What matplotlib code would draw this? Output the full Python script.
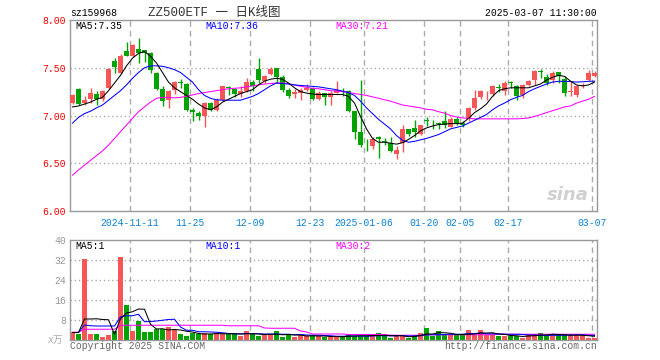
import matplotlib
matplotlib.use("Agg")
import matplotlib.pyplot as plt
import numpy as np

plt.rcParams['font.family'] = ['Liberation Mono', 'Noto Sans CJK SC', 'DejaVu Sans']

# daily candles, 2024-10-28 .. 2025-03-07 (88 trading days)
opens = [7.13, 7.28, 7.13, 7.17, 7.23, 7.17, 7.29, 7.566, 7.444, 7.68,
         7.628, 7.694, 7.69, 7.653, 7.444, 7.28, 7.16, 7.27, 7.345, 7.333,
         7.0625, 7.028, 6.993, 7.132, 7.0625, 7.167, 7.29, 7.28, 7.22, 7.253,
         7.354, 7.486, 7.365, 7.434, 7.497, 7.403, 7.27, 7.22, 7.236, 7.264,
         7.288, 7.177, 7.236, 7.194, 7.236, 7.257, 7.253, 7.045, 6.826, 6.69,
         6.68, 6.77, 6.725, 6.715, 6.594, 6.708, 6.854, 6.87, 6.81, 6.944,
         6.958, 6.913, 6.944, 6.882, 6.965, 6.924, 6.965, 7.08, 7.194, 7.21,
         7.22, 7.29, 7.26, 7.343, 7.313, 7.21, 7.323, 7.375, 7.465, 7.403,
         7.368, 7.455, 7.382, 7.25, 7.21, 7.306, 7.368, 7.41]
closes = [7.21, 7.125, 7.16, 7.24, 7.17, 7.26, 7.486, 7.503, 7.628, 7.628,
          7.743, 7.653, 7.653, 7.48, 7.278, 7.156, 7.26, 7.35, 7.34, 7.0625,
          7.035, 6.993, 7.132, 7.0625, 7.167, 7.306, 7.285, 7.22, 7.253, 7.354,
          7.306, 7.375, 7.417, 7.486, 7.403, 7.27, 7.20, 7.243, 7.27, 7.288,
          7.174, 7.236, 7.194, 7.236, 7.264, 7.243, 7.045, 6.826, 6.687, 6.686,
          6.757, 6.75, 6.72, 6.628, 6.635, 6.854, 6.81, 6.826, 6.896, 6.94,
          6.948, 6.91, 6.896, 6.965, 6.924, 6.903, 7.08, 7.184, 7.253, 7.215,
          7.31, 7.288, 7.34, 7.34, 7.208, 7.323, 7.358, 7.469, 7.46, 7.34,
          7.45, 7.417, 7.236, 7.254, 7.313, 7.323, 7.45, 7.45]
highs = [7.22, 7.29, 7.20, 7.29, 7.26, 7.27, 7.50, 7.60, 7.64, 7.774,
         7.75, 7.81, 7.69, 7.66, 7.46, 7.306, 7.27, 7.365, 7.38, 7.34,
         7.08, 7.045, 7.14, 7.14, 7.184, 7.313, 7.31, 7.288, 7.306, 7.39,
         7.375, 7.60, 7.427, 7.507, 7.50, 7.427, 7.288, 7.278, 7.29, 7.333,
         7.295, 7.253, 7.236, 7.253, 7.358, 7.288, 7.27, 7.045, 7.375, 6.757,
         6.77, 6.785, 6.767, 6.778, 6.68, 6.896, 6.86, 6.95, 6.896, 6.98,
         6.958, 6.93, 7.05, 6.98, 6.98, 6.94, 7.087, 7.264, 7.264, 7.253,
         7.316, 7.33, 7.358, 7.365, 7.323, 7.33, 7.368, 7.48, 7.486, 7.434,
         7.468, 7.455, 7.417, 7.358, 7.323, 7.34, 7.479, 7.462]
lows = [7.12, 7.11, 7.11, 7.13, 7.11, 7.15, 7.28, 7.44, 7.43, 7.618,
        7.61, 7.55, 7.556, 7.444, 7.264, 7.104, 7.08, 7.22, 7.29, 7.045,
        6.94, 6.958, 6.88, 7.045, 7.045, 7.15, 7.21, 7.19, 7.19, 7.243,
        7.253, 7.34, 7.34, 7.42, 7.34, 7.243, 7.184, 7.184, 7.16, 7.253,
        7.16, 7.167, 7.115, 7.115, 7.236, 7.20, 7.035, 6.75, 6.674, 6.63,
        6.646, 6.55, 6.69, 6.618, 6.54, 6.618, 6.785, 6.778, 6.80, 6.89,
        6.86, 6.86, 6.872, 6.878, 6.896, 6.882, 6.94, 7.0625, 7.177, 7.167,
        7.20, 7.243, 7.21, 7.288, 7.167, 7.184, 7.306, 7.323, 7.393, 7.323,
        7.34, 7.34, 7.20, 7.208, 7.194, 7.288, 7.358, 7.403]

ma5 = [7.09, 7.10, 7.12, 7.14, 7.17, 7.19, 7.26, 7.34, 7.42, 7.52,
       7.60, 7.65, 7.67, 7.62, 7.55, 7.45, 7.35, 7.29, 7.25, 7.21,
       7.17, 7.12, 7.08, 7.06, 7.09, 7.14, 7.17, 7.20, 7.23, 7.25,
       7.27, 7.32, 7.36, 7.38, 7.39, 7.38, 7.34, 7.29, 7.25, 7.235,
       7.225, 7.22, 7.22, 7.22, 7.22, 7.22, 7.20, 7.13, 6.99, 6.86,
       6.76, 6.72, 6.72, 6.71, 6.70, 6.715, 6.75, 6.79, 6.84, 6.87,
       6.89, 6.905, 6.91, 6.915, 6.915, 6.92, 6.97, 7.03, 7.07, 7.12,
       7.20, 7.26, 7.28, 7.29, 7.29, 7.29, 7.29, 7.31, 7.33, 7.37,
       7.40, 7.42, 7.41, 7.36, 7.32, 7.31, 7.32, 7.35]
ma10 = [6.92, 6.98, 7.02, 7.045, 7.08, 7.11, 7.16, 7.21, 7.26, 7.32,
        7.39, 7.45, 7.50, 7.52, 7.52, 7.515, 7.50, 7.48, 7.45, 7.40,
        7.35, 7.27, 7.21, 7.18, 7.165, 7.16, 7.16, 7.16, 7.16, 7.18,
        7.20, 7.23, 7.27, 7.31, 7.34, 7.335, 7.33, 7.32, 7.315, 7.31,
        7.305, 7.30, 7.29, 7.28, 7.27, 7.255, 7.24, 7.21, 7.15, 7.08,
        7.02, 6.96, 6.91, 6.86, 6.79, 6.74, 6.72, 6.73, 6.745, 6.76,
        6.78, 6.80, 6.83, 6.86, 6.875, 6.89, 6.92, 6.95, 6.98, 7.01,
        7.06, 7.10, 7.13, 7.165, 7.19, 7.21, 7.25, 7.28, 7.305, 7.33,
        7.35, 7.358, 7.358, 7.355, 7.35, 7.353, 7.358, 7.36]
ma30 = [6.375, 6.43, 6.48, 6.53, 6.58, 6.63, 6.69, 6.76, 6.83, 6.90,
        6.97, 7.04, 7.09, 7.14, 7.18, 7.19, 7.19, 7.185, 7.19, 7.20,
        7.215, 7.23, 7.24, 7.25, 7.26, 7.27, 7.28, 7.285, 7.29, 7.30,
        7.31, 7.32, 7.33, 7.335, 7.34, 7.34, 7.333, 7.32, 7.306, 7.295,
        7.285, 7.28, 7.27, 7.26, 7.255, 7.25, 7.243, 7.23, 7.22, 7.21,
        7.195, 7.18, 7.165, 7.15, 7.13, 7.11, 7.10, 7.09, 7.08, 7.065,
        7.06, 7.04, 7.025, 7.00, 6.985, 6.975, 6.97, 6.965, 6.965, 6.965,
        6.965, 6.965, 6.965, 6.965, 6.965, 6.968, 6.975, 6.99, 7.01, 7.03,
        7.05, 7.07, 7.09, 7.10, 7.13, 7.15, 7.17, 7.20]

# volume, unit: 万
volume = [3.1, 2.4, 32.4, 2.4, 2.4, 1.3, 2.0, 3.5, 33.2, 14.0,
          3.6, 7.7, 3.2, 3.2, 4.3, 4.3, 5.2, 3.9, 2.4, 1.6,
          2.8, 2.3, 2.9, 2.3, 2.9, 2.3, 2.3, 2.8, 1.6, 3.5,
          2.4, 1.6, 2.1, 2.1, 3.5, 1.2, 2.0, 1.2, 2.1, 1.6,
          1.6, 1.6, 1.2, 1.2, 1.2, 1.5, 2.4, 1.5, 1.7, 1.5,
          1.7, 2.8, 1.7, 0.8, 1.7, 1.7, 0.8, 1.9, 2.8, 4.8,
          1.6, 3.5, 1.9, 1.9, 1.9, 1.9, 4.0, 2.1, 4.0, 2.1,
          2.1, 1.6, 1.6, 1.6, 1.6, 0.8, 2.3, 2.3, 2.8, 1.6,
          2.4, 1.9, 1.9, 1.9, 1.9, 1.9, 0.8, 0.8]
vma5 = [3.0, 3.0, 8.4, 8.4, 8.5, 8.2, 8.1, 2.3, 8.5, 10.8,
        11.3, 12.4, 12.3, 6.3, 4.4, 4.5, 4.0, 4.2, 4.0, 3.5,
        3.2, 2.6, 2.4, 2.4, 2.6, 2.5, 2.5, 2.5, 2.4, 2.5,
        2.5, 2.4, 2.2, 2.3, 2.3, 2.1, 2.2, 2.0, 2.0, 1.6,
        1.7, 1.6, 1.6, 1.4, 1.4, 1.3, 1.5, 1.6, 1.7, 1.7,
        1.8, 1.8, 1.9, 1.7, 1.7, 1.7, 1.3, 1.4, 1.8, 2.4,
        2.4, 2.9, 2.9, 2.7, 2.2, 2.2, 2.3, 2.4, 2.8, 2.8,
        2.9, 2.4, 2.3, 1.8, 1.7, 1.4, 1.6, 1.7, 2.0, 2.0,
        2.3, 2.2, 2.1, 1.9, 2.0, 1.9, 1.7, 1.5]
vma10 = [3.0, 3.0, 6.0, 5.7, 5.6, 5.6, 5.6, 5.6, 9.3, 9.7,
         9.7, 10.3, 7.3, 7.4, 7.6, 7.9, 8.2, 8.3, 5.2, 3.9,
         3.9, 3.3, 3.3, 3.2, 3.1, 2.9, 2.6, 2.5, 2.4, 2.6,
         2.5, 2.5, 2.4, 2.4, 2.4, 2.3, 2.3, 2.1, 2.2, 2.0,
         1.9, 1.9, 1.8, 1.7, 1.5, 1.5, 1.6, 1.6, 1.6, 1.5,
         1.6, 1.7, 1.7, 1.7, 1.7, 1.8, 1.6, 1.6, 1.7, 2.1,
         2.1, 2.1, 2.2, 2.3, 2.3, 2.3, 2.6, 2.6, 2.8, 2.5,
         2.5, 2.4, 2.3, 2.3, 2.3, 2.2, 2.0, 2.0, 1.9, 1.8,
         1.9, 1.9, 1.9, 2.0, 2.0, 2.1, 1.9, 1.8]
vma30 = [3.1, 3.1, 4.3, 4.3, 4.3, 4.3, 4.3, 4.3, 5.9, 5.9,
         5.9, 5.9, 5.9, 5.9, 5.9, 5.9, 5.9, 5.9, 5.9, 5.9,
         5.9, 5.9, 5.9, 5.9, 5.9, 5.9, 5.7, 5.7, 5.7, 5.7,
         5.7, 5.7, 4.8, 4.7, 4.7, 4.7, 4.7, 4.7, 3.6, 3.2,
         2.4, 2.4, 2.4, 2.4, 2.4, 2.4, 2.2, 2.2, 2.2, 2.2,
         2.2, 2.2, 2.2, 1.9, 1.9, 1.9, 1.9, 1.9, 1.9, 2.1,
         2.1, 2.1, 2.1, 2.1, 2.1, 2.1, 2.1, 2.1, 2.1, 2.1,
         2.1, 2.3, 2.3, 2.3, 2.3, 2.3, 2.3, 2.3, 2.3, 2.3,
         2.3, 2.3, 2.3, 2.3, 2.3, 2.3, 2.3, 2.3]

date_idx = [10, 20, 30, 40, 49, 59, 65, 73, 87]
date_lbl = ["2024-11-11", "11-25", "12-09", "12-23", "2025-01-06",
            "01-20", "02-05", "02-17", "03-07"]

RED = '#f65656'
GREEN = '#00a300'
GRID = '#aaaaaa'
W, H = 660, 360

n = len(closes)
x = np.arange(n)
xc = x + 5 / 12.0  # candle centre, body is 5 of 6 px
up = np.array(closes) >= np.array(opens)
cols = [RED if u else GREEN for u in up]

fig = plt.figure(figsize=(6.6, 3.6), dpi=100, facecolor='white')


def box(l, t, r, b):
    return [l / W, 1 - b / H, (r - l) / W, (b - t) / H]


def style(ax, ylo, yhi, hgrid):
    ax.set_xlim(0, n - 1 / 6.0)
    ax.set_ylim(ylo, yhi)
    for s in ax.spines.values():
        s.set_color('#999999')
        s.set_linewidth(1.0)
    for d in date_idx:
        ax.axvline(d, color=GRID, lw=1.0, ls=(0, (4, 3)), zorder=0)
    for g in hgrid:
        ax.axhline(g, color=GRID, lw=1.0, ls=(0, (1, 2)), zorder=0)
    ax.tick_params(length=0)


# price panel
ax = fig.add_axes(box(70, 20, 597, 211))
style(ax, 6.0, 8.0, [6.5, 7.0, 7.5])
ax.vlines(xc, lows, highs, colors=cols, lw=1.0, zorder=2)
bh = np.maximum(np.abs(np.array(closes) - np.array(opens)), 0.009)
ax.bar(x, bh, bottom=np.minimum(opens, closes), width=5 / 6.0, align='edge',
       color=cols, lw=0, zorder=3)
ax.plot(xc, ma30, color='#ff00ff', lw=0.75, zorder=4)
ax.plot(xc, ma10, color='#0000ff', lw=0.75, zorder=4)
ax.plot(xc, ma5, color='black', lw=0.75, zorder=4)
ax.set_yticks([6.0, 6.5, 7.0, 7.5, 8.0])
ax.set_yticklabels(['%.2f' % v for v in [6.0, 6.5, 7.0, 7.5, 8.0]],
                   color='#ee0000', fontsize=7)
ax.tick_params(axis='y', pad=3)
ax.set_xticks(date_idx)
ax.set_xticklabels(date_lbl, color='#0a82d2', fontsize=7)
ax.tick_params(axis='x', pad=5)
# watermark
ax.text(0.945, 0.085, 'sina', color='#d0d0d0', fontsize=13, style='italic',
        fontweight='bold', family='DejaVu Sans', ha='center', va='center',
        transform=ax.transAxes, zorder=1)

# volume panel
av = fig.add_axes(box(70, 240, 597, 340))
style(av, 0, 40, [8, 16, 24, 32])
av.bar(x, volume, width=5 / 6.0, align='edge', color=cols, lw=0, zorder=2)
av.plot(xc, vma30, color='#ff00ff', lw=0.75, zorder=3)
av.plot(xc, vma10, color='#0000ff', lw=0.75, zorder=3)
av.plot(xc, vma5, color='black', lw=0.75, zorder=3)
av.set_yticks([8, 16, 24, 32, 40])
av.set_yticklabels(['8', '16', '24', '32', '40'], color='#999999', fontsize=7)
av.tick_params(axis='y', pad=3)
av.set_xticks([])


def ftext(px, py, s, **kw):
    fig.text(px / W, 1 - py / H, s, va='center', **kw)


ftext(70, 13, 'sz159968', fontsize=7, color='black')
ftext(214, 13, 'ZZ500ETF 一 日K线图', fontsize=9, color='#333333', ha='center')
ftext(597, 13, '2025-03-07 11:30:00', fontsize=7, color='black', ha='right')
ftext(75, 26, 'MA5:7.35', fontsize=7, color='black')
ftext(205, 26, 'MA10:7.36', fontsize=7, color='#0000ff')
ftext(335, 26, 'MA30:7.21', fontsize=7, color='#ff00ff')
ftext(75, 246, 'MA5:1', fontsize=7, color='black')
ftext(205, 246, 'MA10:1', fontsize=7, color='#0000ff')
ftext(335, 246, 'MA30:2', fontsize=7, color='#ff00ff')
ftext(63, 340, 'x万', fontsize=7, color='#aaaaaa', ha='right', style='italic')
ftext(70, 346, 'Copyright 2025 SINA.COM', fontsize=7, color='#666666')
ftext(597, 346, 'http://finance.sina.com.cn', fontsize=7, color='#666666', ha='right')

fig.savefig('out.png', dpi=100, facecolor='white')
